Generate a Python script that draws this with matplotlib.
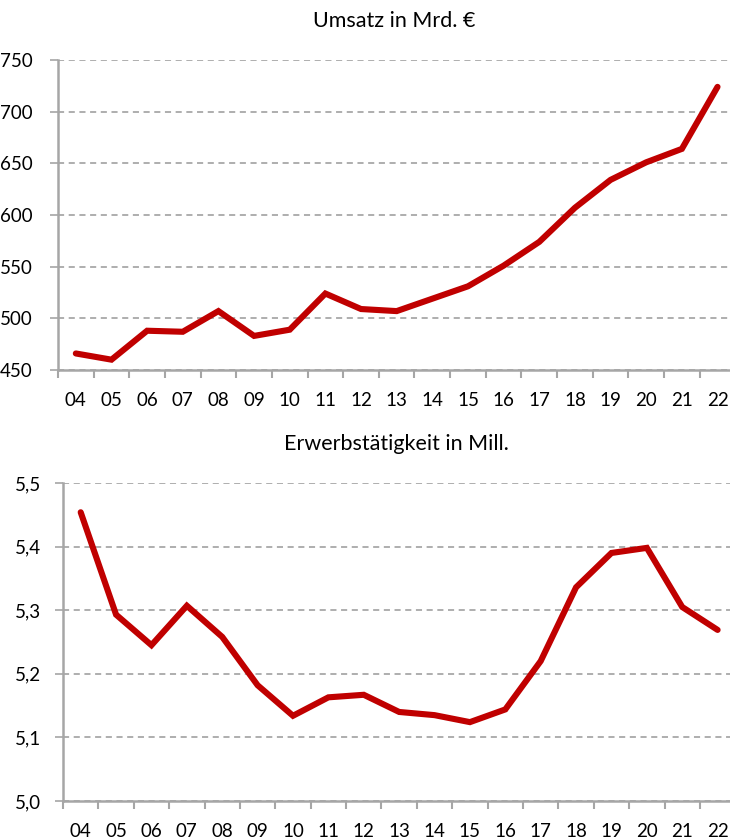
import numpy as np
import matplotlib.pyplot as plt
from matplotlib.ticker import FixedLocator

years = ["04", "05", "06", "07", "08", "09", "10", "11", "12", "13",
         "14", "15", "16", "17", "18", "19", "20", "21", "22"]
umsatz = [466, 460, 488, 487, 507, 483, 489, 524, 509, 507,
          519, 531, 551, 574, 607, 634, 651, 664, 724]
erwerb = [5.454, 5.293, 5.245, 5.307, 5.258, 5.182, 5.134, 5.163, 5.167, 5.140,
          5.135, 5.124, 5.144, 5.220, 5.336, 5.390, 5.398, 5.305, 5.269]

plt.rcParams["font.family"] = ["Lato", "DejaVu Sans"]

red = "#c00000"
grey = "#a6a6a6"

fig = plt.figure(figsize=(7.3, 8.39), dpi=100)
ax1 = fig.add_axes([58 / 730, 1 - 370 / 839, 1 - 58 / 730, 310 / 839])
ax2 = fig.add_axes([63 / 730, 1 - 801 / 839, 1 - 63 / 730, 318 / 839])


def style(ax, title, ylim, yticks, ylabels, ypad):
    x = np.arange(len(years))
    ax.set_xlim(-0.5, len(years) - 0.65)
    ax.set_ylim(*ylim)
    ax.set_yticks(yticks)
    ax.set_yticklabels(ylabels)
    ax.set_xticks(x)
    ax.set_xticklabels(years)
    ax.xaxis.set_minor_locator(FixedLocator(np.arange(-0.5, len(years), 1.0)))
    ax.tick_params(axis="x", which="major", length=0, pad=16, labelsize=13.5)
    ax.tick_params(axis="x", which="minor", length=6, width=1.5, color=grey)
    ax.tick_params(axis="y", length=6, width=1.2, color=grey, pad=ypad, labelsize=13.5)
    ax.grid(axis="y", linestyle=(0, (4, 3)), color="#999999", linewidth=1.1)
    ax.set_axisbelow(True)
    for s in ["top", "right"]:
        ax.spines[s].set_visible(False)
    for s in ["left", "bottom"]:
        ax.spines[s].set_color(grey)
        ax.spines[s].set_linewidth(1.8)
    ax.set_title(title, fontsize=15.5, pad=24)


ax1.plot(np.arange(len(years)), umsatz, color=red, linewidth=4.4,
         solid_capstyle="round", solid_joinstyle="miter", clip_on=False, zorder=3)
style(ax1, "Umsatz in Mrd. €", (450, 750), [450, 500, 550, 600, 650, 700, 750],
      ["450", "500", "550", "600", "650", "700", "750"], 12)

ax2.plot(np.arange(len(years)), erwerb, color=red, linewidth=4.4,
         solid_capstyle="round", solid_joinstyle="miter", clip_on=False, zorder=3)
style(ax2, "Erwerbstätigkeit in Mill.", (5.0, 5.5), [5.0, 5.1, 5.2, 5.3, 5.4, 5.5],
      ["5,0", "5,1", "5,2", "5,3", "5,4", "5,5"], 10)

fig.savefig("out.png", dpi=100)
